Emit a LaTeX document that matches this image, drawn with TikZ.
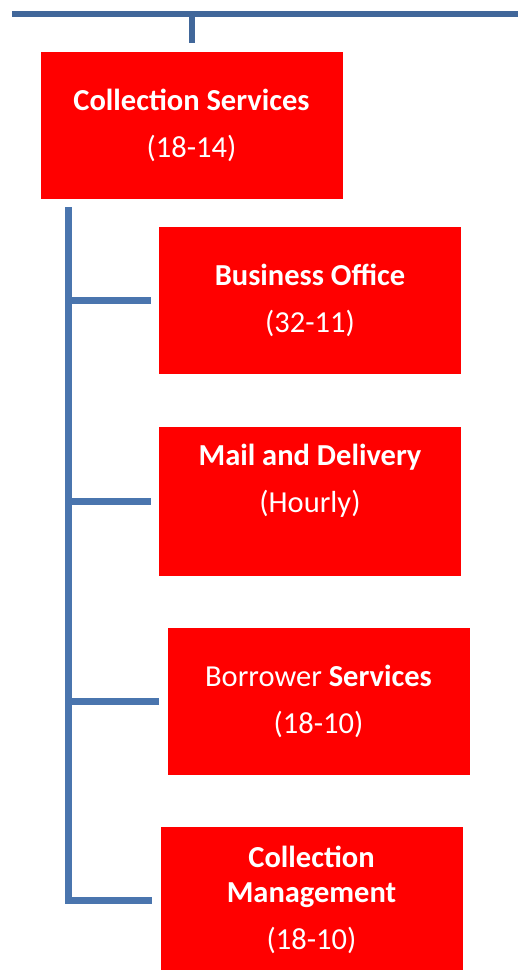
\documentclass[tikz,border=0pt]{standalone}
\usepackage{fontspec}
\setmainfont{Carlito}
\usetikzlibrary{positioning}
\definecolor{boxred}{HTML}{FF0000}
\definecolor{barblue}{HTML}{41679A}
\definecolor{treeblue}{HTML}{4A75AE}
\tikzset{
	unit/.style={fill=boxred, text=white, align=center, inner sep=2pt,
		minimum width=302pt, minimum height=147pt,
		font=\fontsize{30.5}{47}\selectfont},
	bar/.style={draw=barblue, line width=6pt},
	tree/.style={draw=treeblue, line width=7pt, shorten >=8pt}
}
\begin{document}
\begin{tikzpicture}[x=1pt, y=-1pt]
		\clip (0,0) rectangle (518,970);
		\node[unit](cs) at (191.5,125) {\textbf{Collection Services}\\(18-14)};
		\node[unit](bo) at (310,300) {\textbf{Business Office}\\(32-11)};
		\node[unit, minimum height=149pt](md) at (310,501.5) {\textbf{Mail and Delivery}\\(Hourly)\\\mbox{}};
		\node[unit](bs) at (318.5,701) {Borrower \textbf{Services}\\(18-10)};
		\node[unit](cm) at (311.5,900) {\textbf{Collection}\\[-12pt]\textbf{Management}\\(18-10)};
		\coordinate (barL) at (12,13.5);
		\coordinate (barR) at (518,13.5);
		\coordinate (trunktop) at (68,207);
		\coordinate (trunkbot) at (68,900);
		\draw [bar] (barL) -- (barR);
		\draw [bar, shorten >=8pt] (barL -| cs) -- (cs);
		\draw [tree] (trunktop) -- (trunkbot) -- (cm);
		\draw [tree] (trunktop |- bo) -- (bo);
		\draw [tree] (trunktop |- md) -- (md);
		\draw [tree] (trunktop |- bs) -- (bs);
	\end{tikzpicture}
\end{document}
